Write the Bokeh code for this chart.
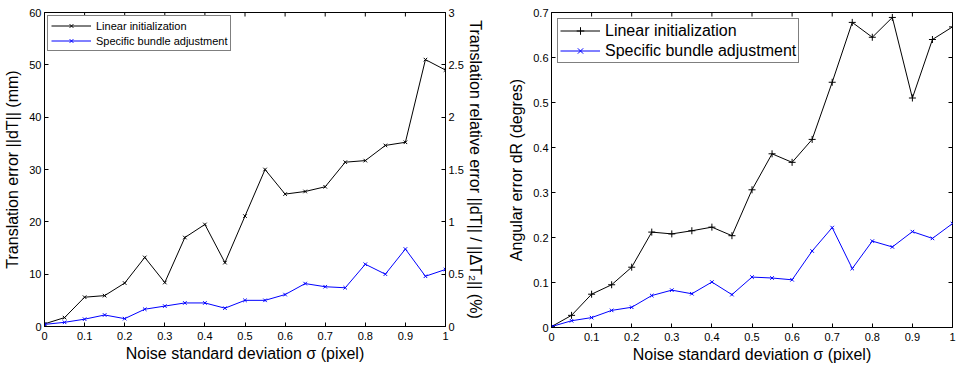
import math
from bokeh.plotting import figure
from bokeh.models import Range1d, LinearAxis, FixedTicker, Legend, LegendItem, NumeralTickFormatter
from bokeh.layouts import row
from bokeh.embed import file_html
from bokeh.resources import INLINE

# ---------------- data ----------------
sigma = [0.0, 0.05, 0.1, 0.15, 0.2, 0.25, 0.3, 0.35, 0.4, 0.45, 0.5,
         0.55, 0.6, 0.65, 0.7, 0.75, 0.8, 0.85, 0.9, 0.95, 1.0]

trans_linear = [0.5, 1.7, 5.6, 5.9, 8.3, 13.2, 8.4, 17.0, 19.5, 12.2, 21.1,
                30.0, 25.3, 25.8, 26.7, 31.4, 31.7, 34.6, 35.2, 51.0, 49.0]
trans_bundle = [0.4, 0.8, 1.4, 2.2, 1.5, 3.3, 3.9, 4.5, 4.5, 3.5, 5.0,
                5.0, 6.1, 8.2, 7.6, 7.4, 11.9, 10.0, 14.8, 9.6, 10.9]

ang_linear = [0.002, 0.027, 0.074, 0.095, 0.134, 0.212, 0.208, 0.215, 0.223, 0.204, 0.306,
              0.386, 0.367, 0.418, 0.545, 0.678, 0.645, 0.689, 0.510, 0.640, 0.668]
ang_bundle = [0.002, 0.015, 0.022, 0.038, 0.045, 0.071, 0.083, 0.075, 0.101, 0.073, 0.112,
              0.110, 0.106, 0.170, 0.222, 0.131, 0.192, 0.179, 0.213, 0.198, 0.231]

x_ticks = [0, 0.1, 0.2, 0.3, 0.4, 0.5, 0.6, 0.7, 0.8, 0.9, 1]
trans_ticks = [0, 10, 20, 30, 40, 50, 60]
pct_ticks = [0, 0.5, 1, 1.5, 2, 2.5, 3]
ang_ticks = [0, 0.1, 0.2, 0.3, 0.4, 0.5, 0.6, 0.7]

series_names = ["Linear initialization", "Specific bundle adjustment"]
x_label = "Noise standard deviation σ (pixel)"
trans_label = "Translation error ||dT|| (mm)"
pct_label = "Translation relative error ||dT|| / ||ΔT₂|| (%)"
ang_label = "Angular error dR (degres)"

FONT = "Liberation Sans"
BLUE = "#0000ff"


def style_axis(ax, ticks, fmt, label, lab_standoff=3, axlab_standoff=1):
    ax.ticker = FixedTicker(ticks=ticks)
    ax.formatter = NumeralTickFormatter(format=fmt)
    ax.major_tick_in = 4
    ax.major_tick_out = 0
    ax.minor_tick_line_color = None
    ax.axis_line_color = "black"
    ax.major_tick_line_color = "black"
    ax.major_label_text_font = FONT
    ax.major_label_text_color = "black"
    ax.major_label_text_font_size = "11px"
    ax.major_label_standoff = lab_standoff
    ax.axis_label = label
    ax.axis_label_text_font = FONT
    ax.axis_label_text_font_size = "16px"
    ax.axis_label_text_font_style = "normal"
    ax.axis_label_text_color = "black"
    ax.axis_label_standoff = axlab_standoff


def base_fig(fw, fh, yr, **kw):
    p = figure(frame_width=fw, frame_height=fh, x_range=Range1d(0, 1), y_range=yr,
               output_backend="svg", toolbar_location=None, **kw)
    p.xgrid.visible = False
    p.ygrid.visible = False
    p.outline_line_color = "black"
    p.outline_line_width = 1
    p.background_fill_color = "white"
    p.border_fill_color = "white"
    return p


def edge_ticks(p, xs, ys, angle):
    # inward tick marks on the box edges (the half outside the frame is clipped)
    p.scatter(xs, ys, marker="dash", angle=angle, size=8, line_color="black", line_width=1)


# ---------------- left panel ----------------
p1 = base_fig(401, 314, Range1d(0, 60), min_border_left=44, min_border_right=40,
              min_border_top=12, min_border_bottom=39)
p1.extra_y_ranges = {"pct": Range1d(0, 3)}
style_axis(p1.below[0], x_ticks, "0.[0]", x_label, lab_standoff=5, axlab_standoff=2)
style_axis(p1.left[0], trans_ticks, "0", trans_label, lab_standoff=3, axlab_standoff=5)
ax_r = LinearAxis(y_range_name="pct")
style_axis(ax_r, pct_ticks, "0.[0]", pct_label, lab_standoff=3, axlab_standoff=0)
p1.add_layout(ax_r, "right")
edge_ticks(p1, x_ticks, [trans_ticks[-1]] * len(x_ticks), math.pi / 2)

l1 = p1.line(sigma, trans_linear, line_color="black", line_width=1)
s1 = p1.scatter(sigma, trans_linear, marker="x", size=5, line_color="black", line_width=1)
l2 = p1.line(sigma, trans_bundle, line_color=BLUE, line_width=1)
s2 = p1.scatter(sigma, trans_bundle, marker="x", size=5, line_color=BLUE, line_width=1)

leg1 = Legend(items=[LegendItem(label=series_names[0], renderers=[l1, s1]),
                     LegendItem(label=series_names[1], renderers=[l2, s2])],
              location="top_left", margin=3, padding=3, spacing=2,
              label_height=13, glyph_height=13, glyph_width=40, label_standoff=5,
              label_text_font=FONT, label_text_font_size="11px", label_text_color="black",
              border_line_color="black", border_line_width=1, background_fill_alpha=1)
p1.add_layout(leg1)

# ---------------- right panel ----------------
p2 = base_fig(401, 315, Range1d(0, 0.7), min_border_left=65, min_border_right=5,
              min_border_top=11, min_border_bottom=39)
style_axis(p2.below[0], x_ticks, "0.[0]", x_label, lab_standoff=5, axlab_standoff=2)
style_axis(p2.left[0], ang_ticks, "0.[0]", ang_label, lab_standoff=3, axlab_standoff=5)
edge_ticks(p2, x_ticks, [ang_ticks[-1]] * len(x_ticks), math.pi / 2)
edge_ticks(p2, [x_ticks[-1]] * len(ang_ticks), ang_ticks, 0)

l3 = p2.line(sigma, ang_linear, line_color="black", line_width=1)
s3 = p2.scatter(sigma, ang_linear, marker="cross", size=7, line_color="black", line_width=1)
l4 = p2.line(sigma, ang_bundle, line_color=BLUE, line_width=1)
s4 = p2.scatter(sigma, ang_bundle, marker="x", size=5, line_color=BLUE, line_width=1)

leg2 = Legend(items=[LegendItem(label=series_names[0], renderers=[l3, s3]),
                     LegendItem(label=series_names[1], renderers=[l4, s4])],
              location="top_left", margin=6, padding=2, spacing=1,
              label_height=19, glyph_height=19, glyph_width=40, label_standoff=5,
              label_text_font=FONT, label_text_font_size="16px", label_text_color="black",
              border_line_color="black", border_line_width=1, background_fill_alpha=1)
p2.add_layout(leg2)

layout = row(p1, p2)
open("out.html", "w").write(file_html(layout, INLINE))
